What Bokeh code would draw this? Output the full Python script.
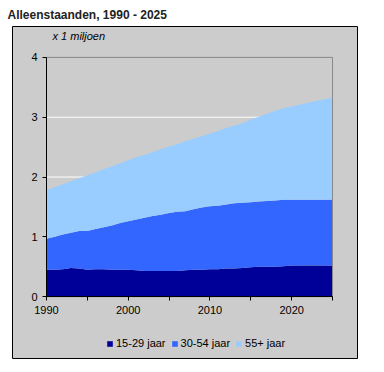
from bokeh.plotting import figure
from bokeh.models import Legend, LegendItem, FixedTicker, Label, Range1d, LinearAxis
from bokeh.embed import file_html
from bokeh.resources import INLINE

years = list(range(1990, 2026))
jong = [0.45, 0.45, 0.46, 0.48, 0.47, 0.45, 0.46, 0.46, 0.45, 0.45, 0.45, 0.44,
        0.43, 0.43, 0.43, 0.43, 0.43, 0.44, 0.45, 0.45, 0.46, 0.46, 0.47, 0.47,
        0.48, 0.49, 0.50, 0.50, 0.50, 0.51, 0.52, 0.52, 0.52, 0.52, 0.52, 0.52]
midden = [0.52, 0.55, 0.58, 0.59, 0.63, 0.65, 0.67, 0.70, 0.74, 0.78, 0.81, 0.85,
          0.89, 0.92, 0.94, 0.97, 0.99, 0.99, 1.01, 1.04, 1.05, 1.06, 1.07, 1.09,
          1.09, 1.09, 1.09, 1.10, 1.11, 1.11, 1.10, 1.10, 1.10, 1.10, 1.10, 1.10]
oud = [0.81, 0.83, 0.84, 0.86, 0.88, 0.93, 0.95, 0.97, 0.99, 1.00, 1.02, 1.04,
       1.05, 1.07, 1.09, 1.11, 1.13, 1.17, 1.18, 1.19, 1.22, 1.25, 1.28, 1.30,
       1.33, 1.38, 1.42, 1.46, 1.50, 1.53, 1.56, 1.59, 1.62, 1.65, 1.68, 1.70]
series_names = ["15-29 jaar", "30-54 jaar", "55+ jaar"]
colors = ["#000099", "#3366FF", "#99CCFF"]
x_major = [1990, 2000, 2010, 2020]
x_minor = [1995, 2005, 2015, 2025]
y_ticks = [0, 1, 2, 3, 4]

FONT = "Liberation Sans"
GRAY = "#CCCCCC"

# layout (pixels inside the canvas)
W, H = 358, 359
B_LEFT, B_RIGHT, B_TOP, B_BOTTOM = 12, 1, 25, 1
FRAME_W = W - B_LEFT - B_RIGHT          # the grey box
FRAME_H = H - B_TOP - B_BOTTOM
PA_L, PA_R = 34, 320                     # plot area, px from frame left
PA_T, PA_B = 31, 271                     # plot area, px from frame top

x0, x1 = years[0], years[-1]
ymax = y_ticks[-1]
sx = (PA_R - PA_L) / (x1 - x0)
sy = (PA_B - PA_T) / ymax
x_range = Range1d(x0 - PA_L / sx, x1 + (FRAME_W - PA_R) / sx)
y_range = Range1d(-(FRAME_H - PA_B) / sy, ymax + PA_T / sy)

p = figure(width=W, height=H, x_range=x_range, y_range=y_range,
           x_axis_location=None, y_axis_location=None,
           toolbar_location=None, output_backend="svg",
           min_border_left=B_LEFT, min_border_right=B_RIGHT,
           min_border_top=B_TOP, min_border_bottom=B_BOTTOM,
           background_fill_color=GRAY, border_fill_color="white",
           outline_line_color="black", outline_line_width=1)
p.grid.visible = False

p.title.text = "Alleenstaanden, 1990 - 2025"
p.title.align = "left"
p.title.offset = -5
p.title.text_font = FONT
p.title.text_font_size = "12px"
p.title.text_font_style = "bold"
p.title.text_color = "#222222"
p.title.standoff = 10

# white gridlines inside the plot area
p.segment(x0=[x0] * (len(y_ticks) - 2), x1=[x1] * (len(y_ticks) - 2),
          y0=y_ticks[1:-1], y1=y_ticks[1:-1], line_color="white", line_width=1)

src = dict(x=years, a=jong, b=midden, c=oud)
rs = p.varea_stack(["a", "b", "c"], x="x", color=colors, source=src)

# plot-area border
p.quad(left=[x0], right=[x1], bottom=[0], top=[ymax], fill_color=None,
       line_color="#888888", line_width=1)

xaxis = LinearAxis(fixed_location=0, bounds=(x0, x1),
                   ticker=FixedTicker(ticks=x_major, minor_ticks=x_minor))
yaxis = LinearAxis(fixed_location=x0, bounds=(0, ymax), ticker=FixedTicker(ticks=y_ticks))
for ax in (xaxis, yaxis):
    ax.axis_line_color = "black"
    ax.major_tick_line_color = "black"
    ax.minor_tick_line_color = "black"
    ax.major_tick_out = 4
    ax.major_tick_in = 0
    ax.minor_tick_out = 4
    ax.minor_tick_in = 0
    ax.major_label_text_font = FONT
    ax.major_label_text_font_size = "11px"
    ax.major_label_text_color = "black"
    ax.major_label_standoff = 5
yaxis.minor_tick_line_color = None
p.add_layout(xaxis, "below")
p.add_layout(yaxis, "left")

p.add_layout(Label(x=x0 + 6 / sx, y=ymax + 21 / sy, text="x 1 miljoen", text_font=FONT,
                   text_font_size="11px", text_font_style="italic", text_color="black",
                   text_baseline="middle", text_align="left"))

legend = Legend(items=[LegendItem(label=n, renderers=[r]) for n, r in zip(series_names, rs)],
                orientation="horizontal", location=(94, 9), margin=0, padding=0,
                spacing=5, glyph_width=7, glyph_height=7, label_height=7, label_standoff=3,
                label_text_font=FONT, label_text_font_size="11px", label_text_color="black",
                border_line_color=None, background_fill_alpha=0)
p.add_layout(legend, "center")

open("out.html", "w").write(file_html(p, INLINE))
